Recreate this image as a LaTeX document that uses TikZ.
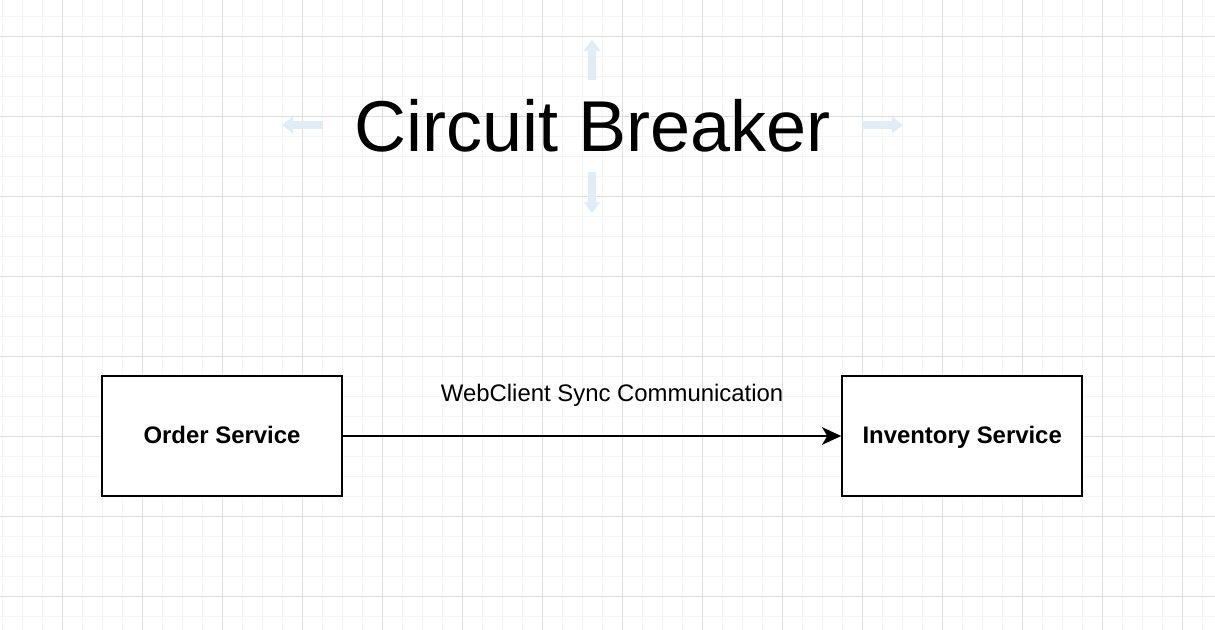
\documentclass[tikz,border=0pt]{standalone}
\usepackage{fontspec}
\setmainfont{Liberation Sans}
\usetikzlibrary{positioning,arrows.meta}
\definecolor{gridmajor}{RGB}{222,222,222}
\definecolor{gridminor}{RGB}{245,245,245}
\definecolor{hoverblue}{RGB}{224,237,247}
\begin{document}
\begin{tikzpicture}[x=0.025cm,y=-0.025cm,
  service/.style={draw,line width=1.3pt,fill=white,minimum width=6cm,minimum height=3cm,
    text height=12.2pt,text depth=1pt,
    font=\fontsize{17pt}{20pt}\selectfont\bfseries},
  call/.style={line width=1pt,-{Stealth[length=0.48cm,width=0.44cm,inset=0.13cm]}},
  hover/.style={hoverblue,line width=0.18cm,-{Triangle[length=0.28cm,width=0.42cm]}}]
\useasboundingbox (0,0) rectangle (1215,630);
\fill[white] (0,0) rectangle (1215,630);
% grid
\foreach \x in {2,22,...,1215} \draw[gridminor] (\x,0) -- (\x,630);
\foreach \y in {16,36,...,630} \draw[gridminor] (0,\y) -- (1215,\y);
\foreach \x in {62,142,...,1215} \draw[gridmajor] (\x,0) -- (\x,630);
\foreach \y in {36,116,...,630} \draw[gridmajor] (0,\y) -- (1215,\y);
\node (title) at (593,126) {\fontsize{51.2pt}{60pt}\selectfont Circuit Breaker};
\coordinate (upA) at (592,80);  \coordinate (upB) at (592,40);
\coordinate (dnA) at (592,172); \coordinate (dnB) at (592,213);
\coordinate (ltA) at (323,125); \coordinate (ltB) at (282,125);
\coordinate (rtA) at (862,125); \coordinate (rtB) at (903,125);
\draw[hover] (upA) -- (upB);
\draw[hover] (dnA) -- (dnB);
\draw[hover] (ltA) -- (ltB);
\draw[hover] (rtA) -- (rtB);
\node[service] (order) at (222,436) {Order Service};
\node[service,right=12.5cm-1.3pt of order] (inventory) {Inventory Service};
\draw[call] (order) -- (inventory)
  node[midway,xshift=0.5cm,yshift=1.02cm,font=\fontsize{17pt}{20pt}\selectfont] (sync) {WebClient Sync Communication};
\end{tikzpicture}
\end{document}
